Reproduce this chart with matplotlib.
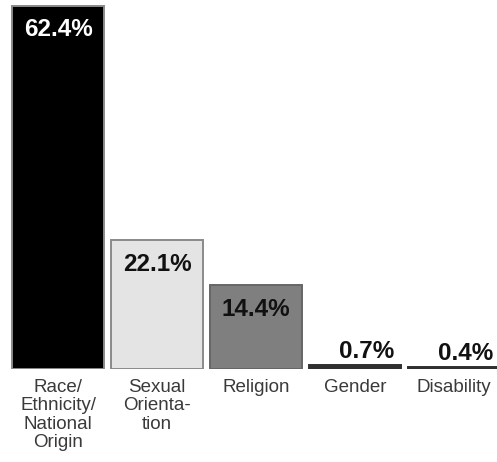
import matplotlib.pyplot as plt

# share of incidents by bias motivation
categories = ["Race/\nEthnicity/\nNational\nOrigin", "Sexual\nOrienta-\ntion", "Religion", "Gender", "Disability"]
values = [62.4, 22.1, 14.4, 0.7, 0.4]
value_labels = ["62.4%", "22.1%", "14.4%", "0.7%", "0.4%"]
bar_colors = ["#000000", "#e4e4e4", "#7f7f7f", "#303030", "#303030"]
edge_colors = ["#8a8a8a", "#8a8a8a", "#666666", "#303030", "#303030"]
text_colors = ["white", "#111111", "#111111", "#111111", "#111111"]

plt.rcParams['font.family'] = ['Liberation Sans', 'DejaVu Sans']

fig = plt.figure(figsize=(4.97, 4.62), dpi=100)
ax = fig.add_axes([0, 0.2013, 1, 0.7987])

x = list(range(len(values)))
bars = ax.bar(x, values, width=0.92, color=bar_colors, edgecolor=edge_colors, linewidth=1.4)

ax.set_xlim(-0.586, 4.434)
ax.set_ylim(0, 63.4)
ax.axis('off')

# value labels: inside the top of tall bars, above the short ones
for i, b in enumerate(bars):
    if values[i] > 5:
        ax.annotate(value_labels[i], (b.get_x() + b.get_width() / 2, values[i]),
                    textcoords="offset points", xytext=(0, -9), ha='center', va='top',
                    fontsize=17.5, fontweight='bold', color=text_colors[i])
    else:
        ax.annotate(value_labels[i], (b.get_x() + b.get_width() - 0.06, values[i]),
                    textcoords="offset points", xytext=(0, 1.5), ha='right', va='bottom',
                    fontsize=17.5, fontweight='bold', color=text_colors[i])

# category labels under the bars
for i, c in enumerate(categories):
    ax.annotate(c, (i, 0), textcoords="offset points", xytext=(0, -7), ha='center', va='top',
                fontsize=13.5, color="#3a3a3a", linespacing=1.12, annotation_clip=False)

plt.savefig("out.png", dpi=100)
